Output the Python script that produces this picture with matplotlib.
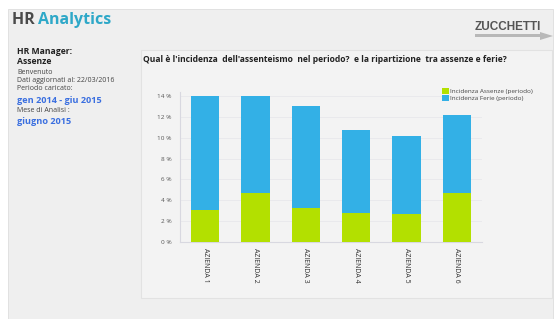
import matplotlib
matplotlib.use("Agg")
import matplotlib.pyplot as plt
from matplotlib.patches import Rectangle, Polygon

categories = ["AZIENDA 1", "AZIENDA 2", "AZIENDA 3", "AZIENDA 4", "AZIENDA 5", "AZIENDA 6"]
assenze = [3.1, 4.7, 3.3, 2.8, 2.7, 4.7]
ferie = [10.9, 9.3, 9.7, 7.9, 7.5, 7.5]
yticks = [0, 2, 4, 6, 8, 10, 12, 14]
series_names = ["Incidenza Assenze (periodo)", "Incidenza Ferie (periodo)"]

W, H = 559, 319
fig = plt.figure(figsize=(W / 100, H / 100), dpi=100)
fig.patch.set_facecolor("white")
plt.rcParams['font.family'] = ['Open Sans', 'DejaVu Sans']

def fx(x):
    return x / W

def fy(y):
    return 1 - y / H

# background panel
fig.patches.append(Rectangle((fx(8), fy(319)), fx(553 - 8), fy(9) - fy(319),
                             transform=fig.transFigure, facecolor="#efefef",
                             edgecolor="#dddddd", lw=0.6, zorder=-10))
# chart panel
fig.patches.append(Rectangle((fx(141), fy(298)), fx(552 - 141), fy(50) - fy(298),
                             transform=fig.transFigure, facecolor="#f3f3f3",
                             edgecolor="#e2e2e2", lw=0.8, zorder=-9))

# header
fig.text(fx(12), fy(20), "HR ", fontsize=11.5, fontweight="bold", color="#4a4a4a",
         va="center", ha="left")
fig.text(fx(38), fy(20), "Analytics", fontsize=11.5, fontweight="bold", color="#2ea8c8",
         va="center", ha="left")

# logo
fig.text(fx(475), fy(27), "ZUCCHETTI", fontsize=8.5, fontweight="bold", color="#555555",
         va="center", ha="left", family=["Liberation Sans", "DejaVu Sans"])
fig.patches.append(Polygon([[fx(475), fy(34)], [fx(540), fy(34)], [fx(540), fy(32)],
                            [fx(553), fy(36)], [fx(540), fy(40)], [fx(540), fy(37)],
                            [fx(475), fy(37)]], closed=True, transform=fig.transFigure,
                           facecolor="#b8b8b8", edgecolor="none", zorder=-8))

# left info
fig.text(fx(17), fy(52), "HR Manager:", fontsize=6.2, fontweight="bold", color="#222222", va="center")
fig.text(fx(17), fy(62), "Assenze", fontsize=6.2, fontweight="bold", color="#222222", va="center")
fig.text(fx(17), fy(72), "Benvenuto", fontsize=5.0, color="#444444", va="center")
fig.text(fx(17), fy(80), "Dati aggiornati al: 22/03/2016", fontsize=5.0, color="#444444", va="center")
fig.text(fx(17), fy(89), "Periodo caricato:", fontsize=5.0, color="#444444", va="center")
fig.text(fx(17), fy(100), "gen 2014 - giu 2015", fontsize=6.6, fontweight="bold", color="#3a6fe0", va="center")
fig.text(fx(17), fy(110), "Mese di Analisi :", fontsize=5.0, color="#444444", va="center")
fig.text(fx(17), fy(121), "giugno 2015", fontsize=6.6, fontweight="bold", color="#3a6fe0", va="center")

# chart title
fig.text(fx(143), fy(59),
         "Qual è l'incidenza  dell'assenteismo  nel periodo?  e la ripartizione  tra assenze e ferie?",
         fontsize=6.1, fontweight="bold", color="#222222", va="center", ha="left")

ax = fig.add_axes([fx(180), fy(242), fx(482 - 180), fy(92) - fy(242)])
ax.set_facecolor("none")
x = list(range(len(categories)))
green = "#b3e000"
blue = "#33b0e6"
b1 = ax.bar(x, assenze, width=0.56, color=green, label=series_names[0], zorder=3)
b2 = ax.bar(x, ferie, width=0.56, bottom=assenze, color=blue, label=series_names[1], zorder=3)
ax.set_xlim(-0.5, len(categories) - 0.5)
ax.set_ylim(0, 14.38)
ax.set_yticks(yticks)
ax.set_yticklabels([f"{t} %" for t in yticks], fontsize=4.6, color="#555555")
ax.set_xticks(x)
ax.set_xticklabels(categories, rotation=270, fontsize=5.0, color="#333333")
ax.tick_params(axis="both", length=0, pad=4)
ax.tick_params(axis="y", pad=6)
for s in ["top", "right"]:
    ax.spines[s].set_visible(False)
ax.spines["left"].set_color("#d8d8e0")
ax.spines["bottom"].set_color("#d8d8e0")
ax.spines["left"].set_linewidth(0.8)
ax.spines["bottom"].set_linewidth(0.8)
ax.yaxis.grid(True, color="#e6e6ea", lw=0.5, zorder=0)

leg = fig.legend(handles=[b1, b2], labels=series_names, loc="upper left",
                 bbox_to_anchor=(fx(439), fy(85)), fontsize=4.6, frameon=False,
                 handlelength=1.0, handleheight=1.1, handletextpad=0.3,
                 labelspacing=0.1, borderpad=0)
for t in leg.get_texts():
    t.set_color("#444444")

fig.savefig("out.png", dpi=100, facecolor=fig.get_facecolor())
